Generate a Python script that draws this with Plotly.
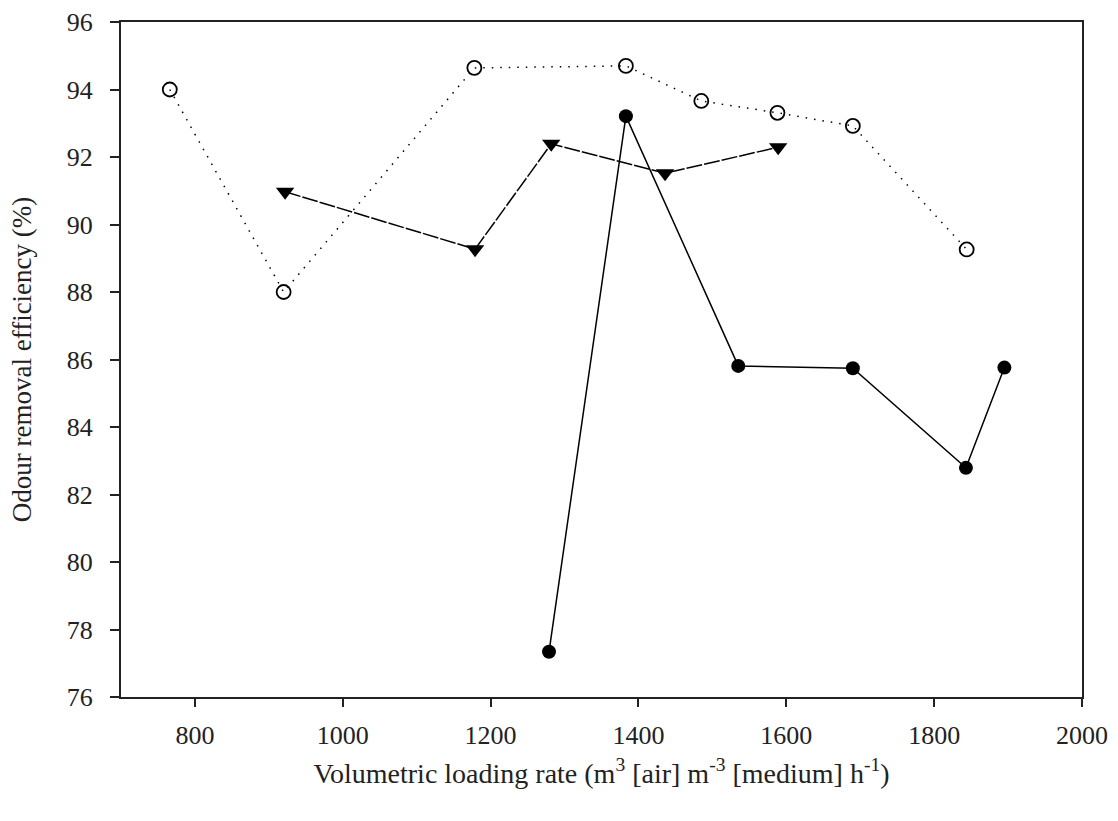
import plotly.graph_objects as go

# Series 1: open circles, dotted line
x_open = [766, 920, 1178, 1383, 1485, 1588, 1690, 1844]
y_open = [94.0, 88.0, 94.64, 94.70, 93.66, 93.31, 92.92, 89.26]

# Series 2: filled down-triangles, dashed line
x_tri = [922, 1179, 1282, 1436, 1589]
y_tri = [90.97, 89.27, 92.39, 91.52, 92.29]

# Series 3: filled circles, solid line
x_fill = [1279, 1383, 1535, 1690, 1843, 1895]
y_fill = [77.34, 93.21, 85.81, 85.74, 82.79, 85.76]

x_ticks = [800, 1000, 1200, 1400, 1600, 1800, 2000]
y_ticks = [76, 78, 80, 82, 84, 86, 88, 90, 92, 94, 96]

FONT = "Liberation Serif, Times New Roman, serif"

fig = go.Figure()
fig.add_trace(go.Scatter(
    x=x_open, y=y_open, mode="lines+markers",
    line=dict(color="black", width=1.5, dash="1.5px,7px"),
    marker=dict(symbol="circle-open", size=14, color="black", line=dict(width=1.8)),
    showlegend=False))
fig.add_trace(go.Scatter(
    x=x_tri, y=y_tri, mode="lines+markers",
    line=dict(color="black", width=1.5, dash="16px,2px"),
    marker=dict(symbol="triangle-down", size=16, color="black"),
    showlegend=False))
fig.add_trace(go.Scatter(
    x=x_fill, y=y_fill, mode="lines+markers",
    line=dict(color="black", width=1.5),
    marker=dict(symbol="circle", size=14, color="black"),
    showlegend=False))

fig.update_layout(
    width=1118, height=821,
    margin=dict(l=121, r=36, t=22, b=124, autoexpand=False),
    paper_bgcolor="white", plot_bgcolor="white",
    font=dict(family=FONT, size=26, color="#222"),
)
fig.update_xaxes(
    range=[700, 2000], tickvals=x_ticks, ticktext=[str(v) for v in x_ticks],
    showgrid=False, zeroline=False, automargin=False,
    showline=True, linecolor="#222", linewidth=2, mirror=True,
    ticks="outside", ticklen=8, tickwidth=1.5, tickcolor="#222",
    tickfont=dict(family=FONT, size=26), ticklabelstandoff=6,
    title=dict(text="Volumetric loading rate (m<sup>3</sup> [air] m<sup>-3</sup> [medium] h<sup>-1</sup>)",
               font=dict(family=FONT, size=28), standoff=14),
)
fig.update_yaxes(
    range=[76, 96], tickvals=y_ticks, ticktext=[str(v) for v in y_ticks],
    showgrid=False, zeroline=False, automargin=False,
    showline=True, linecolor="#222", linewidth=2, mirror=True,
    ticks="outside", ticklen=9, tickwidth=1.5, tickcolor="#222",
    tickfont=dict(family=FONT, size=26), ticklabelstandoff=12,
    title=dict(text="Odour removal efficiency (%)", font=dict(family=FONT, size=27), standoff=27),
)

fig.write_html("out.html")
